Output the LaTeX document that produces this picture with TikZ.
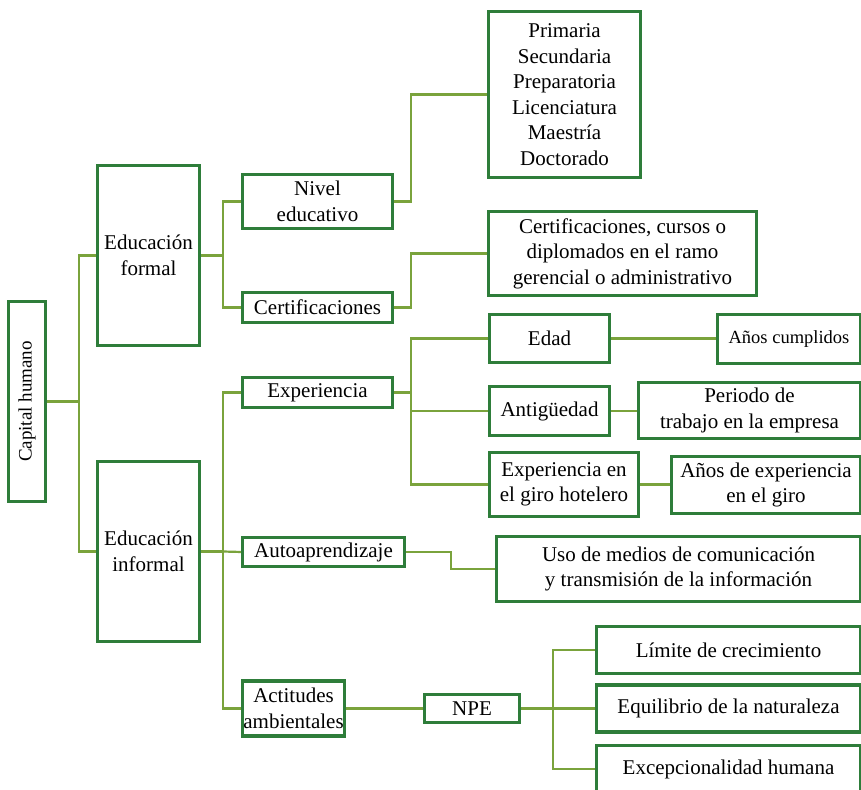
\documentclass[tikz,border=0pt]{standalone}
\usepackage{fontspec}
\setmainfont{Liberation Serif}
\definecolor{boxgreen}{HTML}{2E7D3A}
\definecolor{linkgreen}{HTML}{7AA33C}
\tikzset{
  box/.style={draw=boxgreen, line width=2.2pt, fill=white, align=center,
    inner sep=0pt, font=\fontsize{21}{25.5}\selectfont},
  conn/.style={draw=linkgreen, line width=2.2pt}
}
\begin{document}
\begin{tikzpicture}[x=1pt,y=-1pt]
\useasboundingbox (0,0) rectangle (861,789);

% root
\node[box, rotate=90, minimum width=199, minimum height=36,
      font=\fontsize{19}{23}\selectfont] (cap) at (27,401.5) {Capital humano};

% first level
\node[box, minimum width=101, minimum height=179] (edf) at (148.5,255.5) {Educación\\formal};
\node[box, minimum width=101, minimum height=179] (edi) at (148.5,551.5) {Educación\\informal};

% formal education branch
\node[box, minimum width=149, minimum height=53] (niv) at (317.5,201.5) {Nivel\\educativo};
\node[box, minimum width=149, minimum height=29] (cer) at (317.5,307.5) {Certificaciones};
\node[box, minimum width=151, minimum height=165] (pri) at (564.5,94.5)
  {Primaria\\Secundaria\\Preparatoria\\Licenciatura\\Maestría\\Doctorado};
\node[box, minimum width=267, minimum height=83] (crt) at (622.5,253.5)
  {Certificaciones, cursos o\\diplomados en el ramo\\gerencial o administrativo};

% informal education branch
\node[box, minimum width=149, minimum height=29] (exp) at (317.5,392.5) {Experiencia};
\node[box, minimum width=119, minimum height=47] (edad) at (549.5,338.5) {Edad};
\node[box, minimum width=142, minimum height=48,
      font=\fontsize{18.5}{22}\selectfont] (anos) at (789,339) {Años cumplidos};
\node[box, minimum width=119, minimum height=48] (ant) at (549.5,411) {Antigüedad};
\node[box, minimum width=221, minimum height=55] (per) at (749.5,410.5) {Periodo de\\trabajo en la empresa};
\node[box, minimum width=148, minimum height=63] (giro) at (564,484.5) {Experiencia en\\el giro hotelero};
\node[box, minimum width=188, minimum height=56] (aexp) at (766,485) {Años de experiencia\\en el giro};

\node[box, minimum width=161, minimum height=28] (auto) at (323.5,552) {Autoaprendizaje};
\node[box, minimum width=363, minimum height=64] (uso) at (678.5,569)
  {Uso de medios de comunicación\\y transmisión de la información};

\node[box, minimum width=101, minimum height=54] (act) at (293.5,708.5) {Actitudes\\ambientales};
\node[box, minimum width=94, minimum height=27] (npe) at (472,708.5) {NPE};
\node[box, minimum width=263, minimum height=46] (lim) at (728.5,650) {Límite de crecimiento};
\node[box, minimum width=263, minimum height=46] (equ) at (728.5,708.5) {Equilibrio de la naturaleza};
\node[box, minimum width=263, minimum height=46] (exc) at (728.5,769) {Excepcionalidad humana};

% connectors
\draw[conn] (cap.south) -- ++(33,0) coordinate (j1);
\draw[conn] (edf.west) -| (j1) |- (edi.west);

\draw[conn] (edf.east) -- ++(23,0) coordinate (j2);
\draw[conn] (niv.west) -| (j2) |- (cer.west);
\draw[conn] (niv.east) -- ++(18,0) coordinate (j3) |- (pri.west);
\draw[conn] (cer.east) -- ++(18,0) coordinate (j4) |- (crt.west);

\draw[conn] (edi.east) -- ++(23,0) coordinate (j5);
\draw[conn] (exp.west) -| (j5) |- (act.west);
\draw[conn] (j5) -- (auto.west);

\draw[conn] (exp.east) -- ++(18,0) coordinate (j6);
\draw[conn] (edad.west) -| (j6) |- (giro.west);
\draw[conn] (j6) |- (ant.west);
\draw[conn] (edad.east) -- (edad.east -| anos.west);
\draw[conn] (ant.east) -- (ant.east -| per.west);
\draw[conn] (giro.east) -- (giro.east -| aexp.west);

\draw[conn] (auto.east) -- ++(46,0) coordinate (j7) |- (uso.west);

\draw[conn] (act.east) -- (npe.west);
\draw[conn] (npe.east) -- ++(33,0) coordinate (j8);
\draw[conn] (lim.west) -| (j8) |- (exc.west);
\draw[conn] (j8) -- (equ.west);

% redraw boxes over the connector ends
\foreach \n in {cap,edf,edi,niv,cer,pri,crt,exp,edad,anos,ant,per,giro,aexp,auto,uso,act,npe,lim,equ,exc}
  \draw[draw=boxgreen, line width=2.2pt] (\n.north west) rectangle (\n.south east);
\end{tikzpicture}
\end{document}
